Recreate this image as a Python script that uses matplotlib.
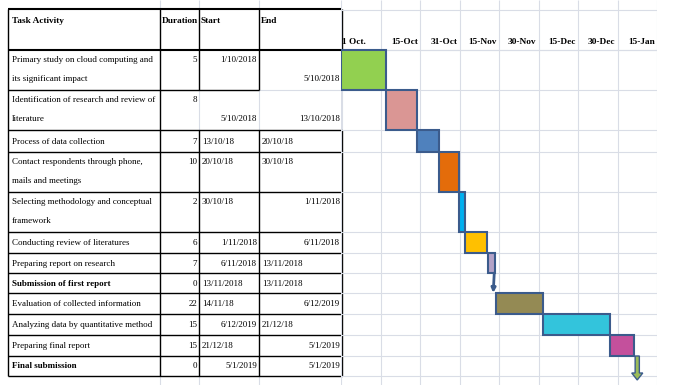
import matplotlib.pyplot as plt
from matplotlib.patches import FancyArrow

# ---- table data ----
tasks = ["Primary study on cloud computing and\nits significant impact",
         "Identification of research and review of\nliterature",
         "Process of data collection",
         "Contact respondents through phone,\nmails and meetings",
         "Selecting methodology and conceptual\nframework",
         "Conducting review of literatures",
         "Preparing report on research",
         "Submission of first report",
         "Evaluation of collected information",
         "Analyzing data by quantitative method",
         "Preparing final report",
         "Final submission"]
durations = [5, 8, 7, 10, 2, 6, 7, 0, 22, 15, 15, 0]
start_dates = ["1/10/2018", "5/10/2018", "13/10/18", "20/10/18", "30/10/18", "1/11/2018",
               "6/11/2018", "13/11/2018", "14/11/18", "6/12/2019", "21/12/18", "5/1/2019"]
end_dates = ["5/10/2018", "13/10/2018", "20/10/18", "30/10/18", "1/11/2018", "6/11/2018",
             "13/11/2018", "13/11/2018", "6/12/2019", "21/12/18", "5/1/2019", "5/1/2019"]
timeline = ["1 Oct.", "15-Oct", "31-Oct", "15-Nov", "30-Nov", "15-Dec", "30-Dec", "15-Jan"]

# bar extents as drawn on the timeline, days from 1 Oct (15 days per column)
bar_from = [0, 17.0, 28.7, 37.2, 44.8, 47.1, 55.8, 58.2, 58.9, 76.6, 102.2, 112.5]
bar_to = [17.0, 28.7, 37.2, 44.8, 47.1, 55.3, 58.5, 58.2, 76.6, 102.2, 111.3, 112.5]

# ---- styles / layout ----
bar_colors = ["#92d050", "#da9694", "#4f81bd", "#e46c0a", "#00b0f0", "#ffc000",
              "#b3a2c7", "#385d8a", "#948a54", "#33c4dc", "#c4509c", "#9bbb59"]
start_align = "rrlllrrllrlr"
end_align = "rrllrrllrlrr"
start_line = [0, 1, 0, 0, 0, 0, 0, 0, 0, 0, 0, 0]
end_line = [1, 1, 0, 0, 0, 0, 0, 0, 0, 0, 0, 0]

col_x = [8, 160, 199, 259, 342]
row_edges = [50, 90, 130, 152, 192, 232, 253, 273, 293, 314, 335, 356, 376]
FONT = "Liberation Serif"
FS = 6.5
FSB = 6.7
GRID = "#d9dde6"
EDGE = "#3b5b8c"

fig = plt.figure(figsize=(6.93, 3.85), dpi=100)
ax = fig.add_axes([0, 0, 1, 1])
ax.set_xlim(0, 693)
ax.set_ylim(385, 0)
ax.axis("off")

gx = fig.add_axes([341 / 693, 0, 316 / 693, 1])
gx.set_xlim(0, 120)
gx.set_ylim(385, 0)
gx.axis("off")


def line_y(i, k):
    t, b = row_edges[i], row_edges[i + 1]
    if b - t > 30:
        return t + 10 + 19 * k
    return (t + b) / 2 + 0.5


def cell_text(s, j, align, y, bold=False):
    if align == "l":
        ax.text(col_x[j] + 3, y, s, ha="left", va="center", family=FONT, fontsize=FS,
                fontweight="bold" if bold else "normal")
    else:
        ax.text(col_x[j + 1] - 2, y, s, ha="right", va="center", family=FONT, fontsize=FS,
                fontweight="bold" if bold else "normal")


# spreadsheet gridlines outside the table
for x in col_x[1:4]:
    ax.vlines(x, 0, 9, color=GRID, lw=0.8)
    ax.vlines(x, 376, 385, color=GRID, lw=0.8)
ax.hlines(90, 259, 342, color=GRID, lw=0.8)
for x in col_x[2:]:
    ax.vlines(x, 90, 130, color=GRID, lw=0.8)

# table borders
ax.hlines([9, 49.5], 8, 342, color="black", lw=1.5)
ax.hlines(90, 8, 259, color="black", lw=1.0)
ax.hlines(row_edges[2:], 8, 342, color="black", lw=1.0)
ax.vlines(col_x[:2], 9, 376, color="black", lw=1.0)
for x in col_x[2:]:
    ax.vlines(x, 9, 90, color="black", lw=1.0)
    ax.vlines(x, 130, 376, color="black", lw=1.0)

# header
for j, h in enumerate(["Task Activity", "Duration", "Start", "End"]):
    ax.text(col_x[j] + (4 if j == 0 else 2), 21, h, ha="left", va="center",
            family=FONT, fontsize=FSB, fontweight="bold")

# rows
for i in range(len(tasks)):
    bold = durations[i] == 0
    for k, part in enumerate(tasks[i].split("\n")):
        ax.text(12, line_y(i, k), part, ha="left", va="center", family=FONT,
                fontsize=FS, fontweight="bold" if bold else "normal")
    cell_text(str(durations[i]), 1, "r", line_y(i, 0))
    cell_text(start_dates[i], 2, start_align[i], line_y(i, start_line[i]))
    cell_text(end_dates[i], 3, end_align[i], line_y(i, end_line[i]))

# gantt grid
gx.vlines(range(0, 121, 15), 0, 385, color=GRID, lw=0.8, zorder=0)
gx.hlines([10, 50] + row_edges, 0, 120, color=GRID, lw=0.8, zorder=0)
for c, lab in enumerate(timeline):
    if c == 0:
        gx.text(0.5, 42, lab, ha="left", va="center", family=FONT,
                fontsize=FSB, fontweight="bold")
    else:
        gx.text((c + 1) * 15 - 0.8, 42, lab, ha="right", va="center", family=FONT,
                fontsize=FSB, fontweight="bold")

# gantt bars and milestones
for i in range(len(tasks)):
    t, b = row_edges[i], row_edges[i + 1]
    if bar_to[i] > bar_from[i]:
        gx.barh((t + b) / 2, bar_to[i] - bar_from[i], left=bar_from[i], height=b - t,
                color=bar_colors[i], edgecolor=EDGE, linewidth=1.5, zorder=3)
    elif i < len(tasks) - 1:
        gx.annotate("", xy=(bar_from[i] - 0.4, b), xytext=(bar_from[i], t),
                    arrowprops=dict(arrowstyle="-|>,head_length=0.25,head_width=0.12",
                                    color=EDGE, lw=2.0, shrinkA=0, shrinkB=0), zorder=4)
    else:
        gx.add_patch(FancyArrow(bar_from[i], t, 0, 24, width=1.6, head_width=4.2,
                                head_length=7, length_includes_head=True,
                                facecolor=bar_colors[i], edgecolor=EDGE, lw=1.0, zorder=4))

fig.savefig("out.png", dpi=100)
